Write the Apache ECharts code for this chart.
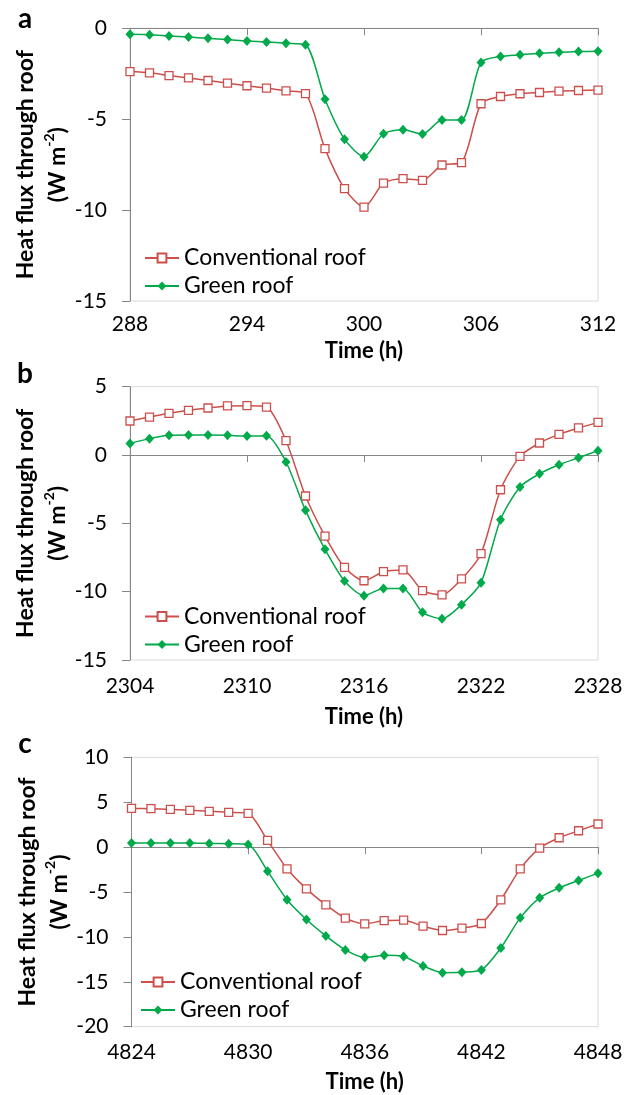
<!DOCTYPE html>
<html>
<head>
<meta charset="utf-8">
<script src="https://cdn.jsdelivr.net/npm/echarts@6/dist/echarts.min.js"></script>
<style>
html,body{margin:0;padding:0;background:#fff;}
#chart{width:636px;height:1095px;}
</style>
</head>
<body>
<div id="chart"></div>
<script>
// ---- data ----
var hoursA = [288,289,290,291,292,293,294,295,296,297,298,299,300,301,302,303,304,305,306,307,308,309,310,311,312];
var conventionalA = [-2.38,-2.45,-2.60,-2.73,-2.87,-3.02,-3.16,-3.29,-3.44,-3.59,-6.62,-8.82,-9.84,-8.52,-8.27,-8.36,-7.52,-7.39,-4.15,-3.75,-3.60,-3.53,-3.46,-3.42,-3.40];
var greenA = [-0.33,-0.35,-0.42,-0.48,-0.55,-0.62,-0.70,-0.75,-0.82,-0.90,-3.90,-6.10,-7.06,-5.80,-5.58,-5.82,-5.05,-5.05,-1.88,-1.55,-1.46,-1.37,-1.32,-1.28,-1.26];

var hoursB = [2304,2305,2306,2307,2308,2309,2310,2311,2312,2313,2314,2315,2316,2317,2318,2319,2320,2321,2322,2323,2324,2325,2326,2327,2328];
var conventionalB = [2.49,2.78,3.05,3.27,3.44,3.59,3.61,3.51,1.05,-3.00,-5.93,-8.22,-9.20,-8.54,-8.41,-9.93,-10.24,-9.07,-7.22,-2.54,-0.10,0.88,1.51,1.98,2.39];
var greenB = [0.85,1.20,1.44,1.46,1.46,1.44,1.39,1.41,-0.51,-4.05,-6.90,-9.22,-10.29,-9.76,-9.76,-11.51,-11.98,-10.95,-9.34,-4.73,-2.34,-1.37,-0.71,-0.20,0.32];

var hoursC = [4824,4825,4826,4827,4828,4829,4830,4831,4832,4833,4834,4835,4836,4837,4838,4839,4840,4841,4842,4843,4844,4845,4846,4847,4848];
var conventionalC = [4.31,4.28,4.20,4.09,3.98,3.87,3.75,0.74,-2.42,-4.65,-6.43,-7.92,-8.55,-8.18,-8.14,-8.81,-9.29,-9.03,-8.51,-5.87,-2.42,-0.11,1.04,1.82,2.57];
var greenC = [0.45,0.45,0.45,0.45,0.41,0.37,0.30,-2.68,-5.87,-8.07,-9.89,-11.45,-12.30,-12.04,-12.19,-13.23,-13.98,-13.94,-13.68,-11.23,-7.88,-5.65,-4.54,-3.72,-2.90];

var panelLetters = ['a','b','c'];
var seriesNames = ['Conventional roof','Green roof'];
var xTitle = 'Time (h)';
var yTitle = 'Heat flux through roof\n(W m{sup|-2})';

// ---- styling / layout ----
var FONT = 'Lato';
var RED = '#cc4f4b';
var GREEN = '#00a94a';
var AXIS = '#868686';
var BORDER = '#d9d9d9';

var panels = [
  {hours: hoursA, conv: conventionalA, green: greenA, ymin:-15, ymax:0,  left:130,  top:28.3,  height:272.7, lblMargin:12.5, nameGap:38, legTop:246.5, legLeft:144, letterY:19},
  {hours: hoursB, conv: conventionalB, green: greenB, ymin:-15, ymax:5,  left:130,  top:386.7, height:273.3, lblMargin:16,   nameGap:45, legTop:605,   legLeft:144, letterY:373.6},
  {hours: hoursC, conv: conventionalC, green: greenC, ymin:-20, ymax:10, left:131.5,top:757.3, height:269.4, lblMargin:15,   nameGap:43, legTop:970.5, legLeft:140, letterY:743.6}
];

function pairs(xs, ys){ return xs.map(function(x,i){ return [x, ys[i]]; }); }
function plain(v){ return String(v); }

var grid = [], xAxis = [], yAxis = [], series = [], legend = [], graphic = [];
panels.forEach(function(p, i){
  grid.push({left:p.left, top:p.top, width:598 - p.left, height:p.height,
    show:true, borderColor:BORDER, borderWidth:1, backgroundColor:'transparent',
    containLabel:false, outerBoundsMode:'none'});
  var xmin = p.hours[0], xmax = p.hours[p.hours.length-1];
  xAxis.push({type:'value', gridIndex:i, min:xmin, max:xmax, interval:6, position:'bottom',
    axisLine:{show:false, onZero:false}, axisTick:{show:false}, splitLine:{show:false},
    axisLabel:{show:true, margin:p.lblMargin, color:'#000', fontFamily:FONT, fontSize:21, formatter:plain},
    name:xTitle, nameLocation:'middle', nameGap:p.nameGap, nameMoveOverlap:false,
    nameTextStyle:{color:'#000', fontFamily:FONT, fontWeight:'bold', fontSize:22, lineHeight:24}});
  xAxis.push({type:'value', gridIndex:i, min:xmin, max:xmax, interval:6, position:'bottom',
    axisLine:{show:true, onZero:true, lineStyle:{color:AXIS, width:1}},
    axisTick:{show:true, length:7, lineStyle:{color:AXIS, width:1}},
    axisLabel:{show:false}, splitLine:{show:false}});
  yAxis.push({type:'value', gridIndex:i, min:p.ymin, max:p.ymax, interval:5,
    axisLine:{show:true, lineStyle:{color:AXIS, width:1}},
    axisTick:{show:true, length:8, lineStyle:{color:AXIS, width:1}},
    splitLine:{show:false},
    axisLabel:{margin:23, color:'#000', fontFamily:FONT, fontSize:21, formatter:plain},
    name:yTitle, nameLocation:'middle', nameRotate:90, nameGap:56, nameMoveOverlap:false,
    nameTextStyle:{color:'#000', fontFamily:FONT, fontWeight:'bold', fontSize:23, lineHeight:32,
      rich:{sup:{fontFamily:FONT, fontWeight:'bold', fontSize:14, lineHeight:14, verticalAlign:'top', color:'#000'}}}});
  series.push({type:'line', name:seriesNames[0], xAxisIndex:2*i, yAxisIndex:i,
    data:pairs(p.hours, p.conv), smooth:0.25, symbol:'rect', symbolSize:8,
    lineStyle:{color:RED, width:1.5},
    itemStyle:{color:'#ffffff', borderColor:RED, borderWidth:1.3}, z:2});
  series.push({type:'line', name:seriesNames[1], xAxisIndex:2*i, yAxisIndex:i,
    data:pairs(p.hours, p.green), smooth:0.25, symbol:'diamond', symbolSize:[9,10],
    lineStyle:{color:GREEN, width:1.5},
    itemStyle:{color:GREEN, borderColor:GREEN, borderWidth:0}, z:3});
  legend.push({orient:'vertical', left:p.legLeft, top:p.legTop, itemWidth:34, itemHeight:11,
    itemGap:5, data:seriesNames, selectedMode:false, padding:0,
    textStyle:{color:'#000', fontFamily:FONT, fontSize:23, lineHeight:23}});
  graphic.push({type:'text', x:25, y:p.letterY,
    style:{text:panelLetters[i], font:'bold 28px ' + FONT, fill:'#000', textAlign:'center', textVerticalAlign:'middle'}});
});

var chart = echarts.init(document.getElementById('chart'), null, {renderer:'canvas'});
chart.setOption({
  animation:false,
  backgroundColor:'#ffffff',
  grid:grid, xAxis:xAxis, yAxis:yAxis, series:series, legend:legend, graphic:graphic,
  tooltip:{show:false}
});
</script>
</body>
</html>
